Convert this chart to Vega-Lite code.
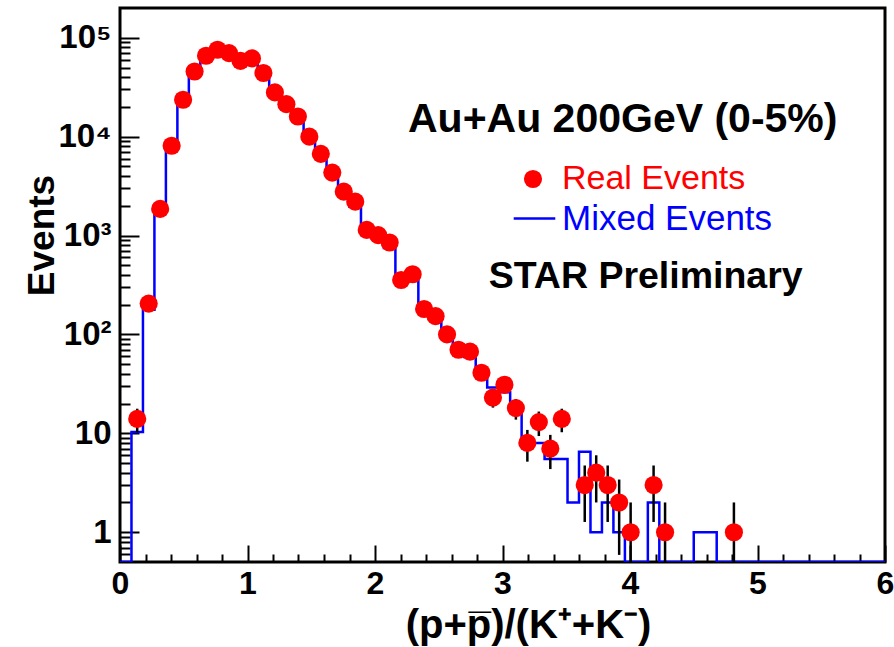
{
  "$schema": "https://vega.github.io/schema/vega-lite/v6.json",
  "width": 765,
  "height": 554,
  "autosize": {"type": "none"},
  "padding": {"left": 120, "top": 8, "right": 9, "bottom": 85},
  "background": "white",
  "config": {
    "view": {"stroke": "black", "strokeWidth": 3},
    "font": "Liberation Sans",
    "axis": {"grid": false, "domain": false, "tickColor": "black", "labelColor": "black", "titleColor": "black"}
  },
  "datasets": {
    "real": [
      {"x": 0.135, "events": 14, "lo": 10.26, "hi": 17.74, "series": "Real Events"},
      {"x": 0.225, "events": 205, "lo": 190.7, "hi": 219.3, "series": "Real Events"},
      {"x": 0.315, "events": 1860, "lo": 1817, "hi": 1903, "series": "Real Events"},
      {"x": 0.405, "events": 8100, "lo": 8010, "hi": 8190, "series": "Real Events"},
      {"x": 0.495, "events": 23600, "lo": 23446, "hi": 23754, "series": "Real Events"},
      {"x": 0.585, "events": 45600, "lo": 45386, "hi": 45814, "series": "Real Events"},
      {"x": 0.675, "events": 65800, "lo": 65543, "hi": 66057, "series": "Real Events"},
      {"x": 0.765, "events": 75700, "lo": 75425, "hi": 75975, "series": "Real Events"},
      {"x": 0.855, "events": 70000, "lo": 69735, "hi": 70265, "series": "Real Events"},
      {"x": 0.945, "events": 58500, "lo": 58258, "hi": 58742, "series": "Real Events"},
      {"x": 1.035, "events": 61800, "lo": 61551, "hi": 62049, "series": "Real Events"},
      {"x": 1.125, "events": 44000, "lo": 43790, "hi": 44210, "series": "Real Events"},
      {"x": 1.215, "events": 28000, "lo": 27833, "hi": 28167, "series": "Real Events"},
      {"x": 1.305, "events": 21300, "lo": 21154, "hi": 21446, "series": "Real Events"},
      {"x": 1.395, "events": 16000, "lo": 15874, "hi": 16126, "series": "Real Events"},
      {"x": 1.485, "events": 10000, "lo": 9900, "hi": 10100, "series": "Real Events"},
      {"x": 1.575, "events": 6700, "lo": 6618, "hi": 6782, "series": "Real Events"},
      {"x": 1.665, "events": 4330, "lo": 4264, "hi": 4396, "series": "Real Events"},
      {"x": 1.755, "events": 2780, "lo": 2727, "hi": 2833, "series": "Real Events"},
      {"x": 1.845, "events": 2200, "lo": 2153, "hi": 2247, "series": "Real Events"},
      {"x": 1.935, "events": 1140, "lo": 1106, "hi": 1174, "series": "Real Events"},
      {"x": 2.025, "events": 1010, "lo": 978, "hi": 1042, "series": "Real Events"},
      {"x": 2.115, "events": 850, "lo": 821, "hi": 879, "series": "Real Events"},
      {"x": 2.205, "events": 355, "lo": 336, "hi": 374, "series": "Real Events"},
      {"x": 2.295, "events": 406, "lo": 386, "hi": 426, "series": "Real Events"},
      {"x": 2.385, "events": 181, "lo": 167.5, "hi": 194.5, "series": "Real Events"},
      {"x": 2.475, "events": 153, "lo": 140.6, "hi": 165.4, "series": "Real Events"},
      {"x": 2.565, "events": 100, "lo": 90, "hi": 110, "series": "Real Events"},
      {"x": 2.655, "events": 70, "lo": 61.6, "hi": 78.4, "series": "Real Events"},
      {"x": 2.745, "events": 67, "lo": 58.8, "hi": 75.2, "series": "Real Events"},
      {"x": 2.835, "events": 41, "lo": 34.6, "hi": 47.4, "series": "Real Events"},
      {"x": 2.925, "events": 23, "lo": 18.2, "hi": 27.8, "series": "Real Events"},
      {"x": 3.015, "events": 31, "lo": 25.4, "hi": 36.6, "series": "Real Events"},
      {"x": 3.105, "events": 18, "lo": 13.76, "hi": 22.24, "series": "Real Events"},
      {"x": 3.195, "events": 8, "lo": 5.17, "hi": 10.83, "series": "Real Events"},
      {"x": 3.285, "events": 13, "lo": 9.39, "hi": 16.61, "series": "Real Events"},
      {"x": 3.375, "events": 7, "lo": 4.35, "hi": 9.65, "series": "Real Events"},
      {"x": 3.465, "events": 14, "lo": 10.26, "hi": 17.74, "series": "Real Events"},
      {"x": 3.645, "events": 3, "lo": 1.27, "hi": 4.73, "series": "Real Events"},
      {"x": 3.735, "events": 4, "lo": 2, "hi": 6, "series": "Real Events"},
      {"x": 3.825, "events": 3, "lo": 1.27, "hi": 4.73, "series": "Real Events"},
      {"x": 3.915, "events": 2, "lo": 0.59, "hi": 3.41, "series": "Real Events"},
      {"x": 4.005, "events": 1, "lo": 0, "hi": 2, "series": "Real Events"},
      {"x": 4.185, "events": 3, "lo": 1.27, "hi": 4.73, "series": "Real Events"},
      {"x": 4.275, "events": 1, "lo": 0, "hi": 2, "series": "Real Events"},
      {"x": 4.815, "events": 1, "lo": 0, "hi": 2, "series": "Real Events"}
    ],
    "mixed": [
      {"edge": 0, "events": 0, "series": "Mixed Events"},
      {"edge": 0.09, "events": 10.3, "series": "Mixed Events"},
      {"edge": 0.18, "events": 178, "series": "Mixed Events"},
      {"edge": 0.27, "events": 1850, "series": "Mixed Events"},
      {"edge": 0.36, "events": 7900, "series": "Mixed Events"},
      {"edge": 0.45, "events": 23000, "series": "Mixed Events"},
      {"edge": 0.54, "events": 45000, "series": "Mixed Events"},
      {"edge": 0.63, "events": 64000, "series": "Mixed Events"},
      {"edge": 0.72, "events": 74000, "series": "Mixed Events"},
      {"edge": 0.81, "events": 70000, "series": "Mixed Events"},
      {"edge": 0.9, "events": 60000, "series": "Mixed Events"},
      {"edge": 0.99, "events": 60000, "series": "Mixed Events"},
      {"edge": 1.08, "events": 44000, "series": "Mixed Events"},
      {"edge": 1.17, "events": 28500, "series": "Mixed Events"},
      {"edge": 1.26, "events": 21000, "series": "Mixed Events"},
      {"edge": 1.35, "events": 16000, "series": "Mixed Events"},
      {"edge": 1.44, "events": 10200, "series": "Mixed Events"},
      {"edge": 1.53, "events": 6600, "series": "Mixed Events"},
      {"edge": 1.62, "events": 4400, "series": "Mixed Events"},
      {"edge": 1.71, "events": 2800, "series": "Mixed Events"},
      {"edge": 1.8, "events": 1960, "series": "Mixed Events"},
      {"edge": 1.89, "events": 1140, "series": "Mixed Events"},
      {"edge": 1.98, "events": 1000, "series": "Mixed Events"},
      {"edge": 2.07, "events": 750, "series": "Mixed Events"},
      {"edge": 2.16, "events": 390, "series": "Mixed Events"},
      {"edge": 2.25, "events": 390, "series": "Mixed Events"},
      {"edge": 2.34, "events": 185, "series": "Mixed Events"},
      {"edge": 2.43, "events": 150, "series": "Mixed Events"},
      {"edge": 2.52, "events": 100, "series": "Mixed Events"},
      {"edge": 2.61, "events": 70, "series": "Mixed Events"},
      {"edge": 2.7, "events": 59, "series": "Mixed Events"},
      {"edge": 2.79, "events": 41, "series": "Mixed Events"},
      {"edge": 2.88, "events": 29, "series": "Mixed Events"},
      {"edge": 2.97, "events": 26, "series": "Mixed Events"},
      {"edge": 3.06, "events": 19, "series": "Mixed Events"},
      {"edge": 3.15, "events": 8, "series": "Mixed Events"},
      {"edge": 3.24, "events": 8, "series": "Mixed Events"},
      {"edge": 3.33, "events": 5.5, "series": "Mixed Events"},
      {"edge": 3.42, "events": 5.5, "series": "Mixed Events"},
      {"edge": 3.51, "events": 2, "series": "Mixed Events"},
      {"edge": 3.6, "events": 6.5, "series": "Mixed Events"},
      {"edge": 3.69, "events": 1, "series": "Mixed Events"},
      {"edge": 3.78, "events": 2, "series": "Mixed Events"},
      {"edge": 3.87, "events": 1, "series": "Mixed Events"},
      {"edge": 3.96, "events": 0, "series": "Mixed Events"},
      {"edge": 4.05, "events": 0, "series": "Mixed Events"},
      {"edge": 4.14, "events": 2, "series": "Mixed Events"},
      {"edge": 4.23, "events": 0, "series": "Mixed Events"},
      {"edge": 4.32, "events": 0, "series": "Mixed Events"},
      {"edge": 4.41, "events": 0, "series": "Mixed Events"},
      {"edge": 4.5, "events": 1, "series": "Mixed Events"},
      {"edge": 4.59, "events": 1, "series": "Mixed Events"},
      {"edge": 4.68, "events": 0, "series": "Mixed Events"},
      {"edge": 6, "events": 0, "series": "Mixed Events"}
    ]
  },
  "resolve": {"axis": {"x": "independent", "y": "independent"}, "scale": {"x": "shared", "y": "shared"}},
  "layer": [
    {
      "data": {"name": "mixed"},
      "mark": {"type": "line", "interpolate": "step-after", "strokeWidth": 2.5, "invalid": "show", "clip": true},
      "encoding": {
        "x": {
          "field": "edge", "type": "quantitative",
          "scale": {"domain": [0, 6], "nice": false, "zero": false},
          "axis": {
            "orient": "bottom", "values": [0, 1, 2, 3, 4, 5, 6], "format": "d",
            "tickSize": -17, "tickWidth": 2, "labelPadding": 23,
            "labelFontSize": 32, "labelFontWeight": "bold", "labelFont": "Liberation Sans",
            "labelFlush": false, "labelOverlap": false,
            "title": "(p+p̅)/(K⁺+K⁻)", "titleFontSize": 40, "titleFontWeight": "bold", "titleFont": "Liberation Sans",
            "titleX": 408, "titleY": 75, "titleBaseline": "alphabetic", "titleAlign": "center"
          }
        },
        "y": {
          "field": "events", "type": "quantitative",
          "scale": {"type": "log", "domain": [0.5, 200000], "nice": false, "clamp": true},
          "axis": {
            "orient": "left", "values": [1, 10, 100, 1000, 10000, 100000],
            "labelExpr": "datum.value == 1 ? '1' : datum.value == 10 ? '10' : datum.value == 100 ? '10²' : datum.value == 1000 ? '10³' : datum.value == 10000 ? '10⁴' : '10⁵'",
            "tickSize": -19, "tickWidth": 2, "labelPadding": 28,
            "labelFontSize": 33, "labelFontWeight": "bold", "labelFont": "Liberation Sans",
            "labelFlush": false, "labelOverlap": false,
            "title": "Events", "titleFontSize": 37, "titleFontWeight": "bold", "titleFont": "Liberation Sans",
            "titleX": -67, "titleY": 227, "titleBaseline": "alphabetic", "titleAlign": "center", "titleAngle": 270
          }
        },
        "stroke": {
          "field": "series", "type": "nominal",
          "scale": {"range": ["#0000ff"]},
          "legend": {
            "orient": "none", "legendX": 392, "legendY": 188, "title": null, "padding": 0,
            "symbolType": "stroke", "symbolSize": 1730, "symbolStrokeWidth": 2.5,
            "labelFontSize": 35, "labelColor": "#0000ff", "labelFont": "Liberation Sans", "labelOffset": 5, "labelLimit": 0
          }
        }
      }
    },
    {
      "data": {"name": "real"},
      "mark": {"type": "rule", "color": "black", "strokeWidth": 2.5, "invalid": "show", "clip": true},
      "encoding": {
        "x": {
          "field": "x", "type": "quantitative",
          "axis": {
            "orient": "bottom", "values": [0.2, 0.4, 0.6, 0.8, 1.2, 1.4, 1.6, 1.8, 2.2, 2.4, 2.6, 2.8, 3.2, 3.4, 3.6, 3.8, 4.2, 4.4, 4.6, 4.8, 5.2, 5.4, 5.6, 5.8],
            "tickSize": -8, "tickWidth": 2, "labels": false, "title": null
          }
        },
        "y": {
          "field": "lo", "type": "quantitative",
          "axis": {
            "orient": "left", "values": [0.6, 0.7, 0.8, 0.9, 2, 3, 4, 5, 6, 7, 8, 9, 20, 30, 40, 50, 60, 70, 80, 90, 200, 300, 400, 500, 600, 700, 800, 900, 2000, 3000, 4000, 5000, 6000, 7000, 8000, 9000, 20000, 30000, 40000, 50000, 60000, 70000, 80000, 90000],
            "tickSize": -10, "tickWidth": 2, "labels": false, "title": null
          }
        },
        "y2": {"field": "hi"}
      }
    },
    {
      "data": {"name": "real"},
      "mark": {"type": "circle", "size": 330, "opacity": 1},
      "encoding": {
        "x": {"field": "x", "type": "quantitative", "axis": null},
        "y": {"field": "events", "type": "quantitative", "axis": null},
        "fill": {
          "field": "series", "type": "nominal",
          "scale": {"range": ["#ff0000"]},
          "legend": {
            "orient": "none", "legendX": 396, "legendY": 154, "title": null, "padding": 0,
            "symbolType": "circle", "symbolSize": 330, "symbolStrokeWidth": 0, "symbolOpacity": 1,
            "labelFontSize": 34, "labelColor": "#ff0000", "labelFont": "Liberation Sans", "labelOffset": 12, "labelLimit": 0
          }
        }
      }
    },
    {
      "data": {"values": [{}]},
      "mark": {"type": "text", "font": "Liberation Sans", "fontWeight": "bold", "fontSize": 41, "align": "center", "baseline": "alphabetic", "color": "black"},
      "encoding": {
        "x": {"datum": 3.943, "type": "quantitative", "axis": null},
        "y": {"datum": 11270, "type": "quantitative", "axis": null},
        "text": {"value": "Au+Au 200GeV (0-5%)"}
      }
    },
    {
      "data": {"values": [{}]},
      "mark": {"type": "text", "font": "Liberation Sans", "fontWeight": "bold", "fontSize": 37.5, "align": "center", "baseline": "alphabetic", "color": "black"},
      "encoding": {
        "x": {"datum": 4.123, "type": "quantitative", "axis": null},
        "y": {"datum": 293, "type": "quantitative", "axis": null},
        "text": {"value": "STAR Preliminary"}
      }
    }
  ]
}
